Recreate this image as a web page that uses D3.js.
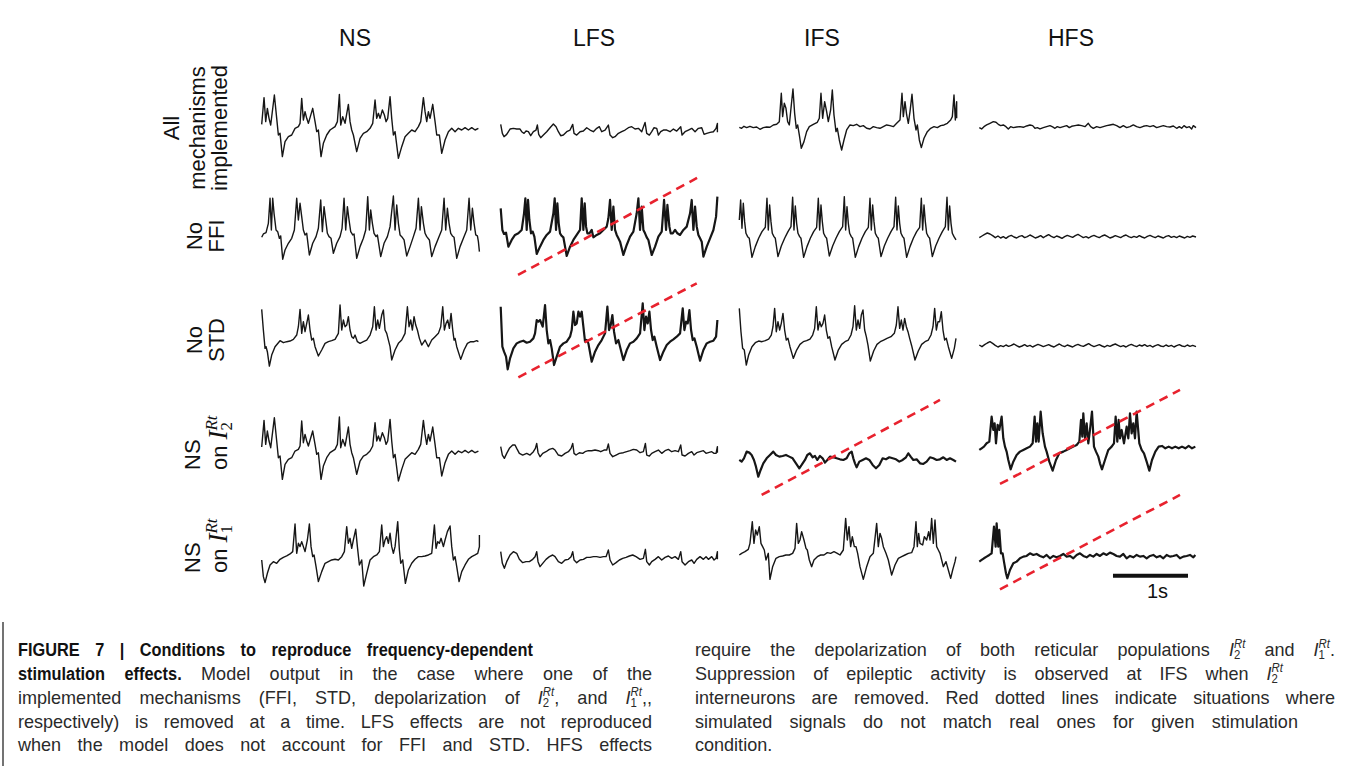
<!DOCTYPE html>
<html>
<head>
<meta charset="utf-8">
<script src="https://cdn.jsdelivr.net/npm/d3@7"></script>
<style>
  body { margin: 0; background: #fff; }
</style>
</head>
<body>
<svg id="fig" width="1354" height="766"></svg>
<script>
// stimulation conditions (columns) and model variants (rows)
var conditions = ["NS", "LFS", "IFS", "HFS"];
var variants = ["all", "noFFI", "noSTD", "onI2", "onI1"];

// traces: [sample, amplitude], 225 samples = 1 s
var all_NS = [[0,14],[7,94],[12,22],[17,62],[22,32],[27,12],[38,102],[45,32],[50,-18],[55,-13],[62,-83],[70,-38],[80,-23],[90,-18],[100,2],[110,7],[115,17],[120,92],[125,27],[130,52],[135,32],[140,17],[153,62],[160,22],[165,-8],[170,-3],[178,-83],[185,-43],[195,-18],[205,-3],[220,7],[227,22],[233,104],[237,12],[243,37],[250,17],[260,74],[265,22],[270,-3],[275,-18],[285,-68],[295,-28],[305,-13],[315,-8],[325,2],[333,17],[340,87],[345,32],[350,47],[355,32],[362,57],[368,42],[373,22],[378,32],[385,97],[390,32],[395,-18],[400,-8],[410,-88],[420,-53],[430,-23],[440,-13],[450,-3],[460,-8],[470,7],[477,22],[485,94],[490,52],[495,22],[500,52],[505,32],[513,74],[520,22],[525,-18],[533,-18],[540,-73],[550,-33],[560,-8],[570,2],[580,-8],[590,2],[600,-3],[610,4],[620,-3],[630,4],[640,-3],[650,2]];
var all_LFS = [[0,22],[5,-5],[10,-15],[18,-8],[28,8],[38,10],[48,8],[58,8],[63,0],[70,-5],[76,2],[83,0],[90,-12],[98,0],[106,5],[110,20],[114,-8],[120,-18],[128,-10],[138,0],[148,12],[158,23],[166,15],[173,0],[180,-12],[188,-10],[198,0],[208,5],[216,22],[220,-5],[228,-10],[238,0],[248,2],[258,12],[268,5],[278,0],[288,10],[296,15],[303,0],[313,5],[323,20],[328,-10],[336,-18],[343,-15],[353,-5],[363,0],[373,5],[383,12],[393,15],[403,8],[413,10],[423,0],[433,28],[438,-5],[446,-10],[453,0],[460,12],[468,10],[473,-10],[480,0],[488,5],[498,5],[508,0],[518,8],[528,2],[540,15],[544,-10],[553,0],[563,5],[573,10],[583,0],[593,10],[603,12],[610,-8],[618,-5],[628,-2],[638,0],[646,10],[650,25],[650,-2]];
var all_IFS = [[0,0],[7,-3],[14,3],[22,-1],[32,3],[42,-1],[52,1],[62,-6],[72,-1],[82,1],[92,0],[102,7],[112,9],[120,17],[126,102],[130,32],[135,72],[140,57],[145,17],[150,7],[156,67],[161,115],[166,42],[171,-3],[175,7],[180,-23],[186,-63],[194,-43],[202,-13],[210,2],[222,9],[234,15],[240,27],[245,102],[250,27],[256,77],[262,47],[267,17],[274,52],[279,112],[284,37],[290,-13],[294,-3],[300,-38],[307,-68],[314,-38],[322,-8],[332,7],[342,5],[352,9],[362,2],[372,5],[382,-3],[392,-5],[402,2],[412,-1],[422,-3],[432,2],[442,7],[452,5],[462,2],[472,12],[482,22],[488,102],[492,32],[497,77],[502,37],[507,12],[512,47],[518,99],[524,27],[530,-8],[534,7],[540,-38],[546,-61],[554,-33],[564,-13],[574,-3],[584,2],[594,-1],[604,5],[614,7],[624,12],[634,22],[639,32],[644,97],[648,22],[652,77],[652,27]];
var all_HFS = [[0,-1],[7,-5],[14,2],[22,7],[32,12],[42,17],[50,15],[57,9],[64,5],[72,7],[80,2],[87,-5],[94,2],[102,-1],[112,1],[122,2],[132,0],[142,4],[152,7],[160,5],[167,-3],[174,-1],[182,-5],[192,-1],[202,2],[212,5],[220,1],[227,-3],[234,2],[242,-1],[252,2],[262,5],[270,-1],[277,3],[287,5],[297,7],[307,5],[317,2],[327,12],[334,2],[342,-3],[352,2],[362,-1],[372,2],[382,5],[392,7],[402,9],[412,5],[422,-1],[432,5],[442,-1],[452,2],[462,7],[472,2],[482,-1],[492,3],[502,5],[512,2],[522,5],[532,-1],[542,2],[552,5],[562,2],[572,1],[582,4],[592,-3],[600,2],[607,-3],[614,5],[622,-1],[630,2],[637,-5],[642,5],[650,-1]];

var noFFI_NS = [[0,-12],[5,-2],[13,2],[20,30],[25,105],[29,10],[33,105],[37,60],[43,10],[48,5],[53,-15],[57,-8],[63,-78],[70,-50],[80,-30],[90,-15],[98,10],[105,105],[110,40],[115,90],[120,50],[125,10],[130,-5],[135,0],[143,-65],[153,-30],[163,-10],[170,15],[177,100],[182,5],[187,80],[192,40],[197,0],[202,-10],[208,-15],[215,-60],[225,-30],[235,-10],[241,15],[247,105],[252,10],[257,80],[262,40],[267,5],[273,-5],[277,-2],[285,-75],[295,-40],[305,-15],[312,10],[318,110],[323,10],[327,70],[332,30],[337,0],[343,-10],[347,-5],[357,-70],[367,-30],[377,-10],[385,20],[395,112],[400,10],[405,85],[410,30],[415,-5],[420,-10],[427,-20],[435,-68],[445,-40],[455,-10],[463,15],[470,105],[475,10],[479,80],[485,30],[490,0],[495,-10],[503,-20],[510,-70],[520,-40],[530,-15],[540,10],[547,105],[552,10],[557,75],[562,30],[567,0],[572,-8],[577,-12],[585,-75],[595,-40],[605,-15],[615,10],[622,105],[627,10],[632,75],[637,30],[642,-5],[647,-8],[650,-25],[653,-55]];
var noFFI_LFS = [[0,75],[5,10],[10,-2],[16,2],[23,-40],[33,-20],[43,-5],[53,0],[63,10],[70,60],[74,105],[78,10],[82,100],[86,40],[91,0],[96,5],[101,-10],[108,-62],[118,-40],[128,-20],[138,-5],[148,5],[158,60],[162,105],[166,10],[170,90],[174,30],[178,0],[183,-8],[188,-12],[198,-68],[208,-40],[218,-20],[228,-5],[238,10],[243,105],[248,10],[252,90],[256,20],[260,0],[266,0],[273,10],[278,-12],[288,-5],[298,0],[308,10],[318,20],[323,45],[328,100],[333,10],[338,80],[343,10],[348,-5],[353,-15],[358,-25],[368,-65],[378,-35],[388,-10],[398,5],[408,60],[413,105],[418,10],[423,80],[428,10],[433,0],[438,-12],[443,-20],[453,-65],[463,-40],[473,-10],[483,5],[490,100],[496,10],[500,85],[506,20],[510,0],[516,0],[523,10],[530,0],[538,-5],[548,10],[558,20],[568,60],[573,100],[578,10],[583,80],[588,20],[593,-5],[598,-15],[603,-25],[608,-70],[618,-40],[628,-15],[638,10],[646,50],[650,110]];
var noFFI_IFS = [[0,40],[4,100],[8,15],[12,90],[16,35],[20,0],[25,-10],[30,-15],[38,-72],[48,-40],[58,-15],[68,5],[78,18],[83,105],[87,10],[91,85],[95,35],[99,0],[104,-10],[108,-15],[116,-70],[126,-38],[136,-15],[146,5],[155,20],[160,108],[164,10],[168,82],[172,30],[176,0],[181,-10],[185,-15],[193,-72],[203,-40],[213,-15],[223,5],[232,18],[237,105],[241,10],[245,85],[249,35],[253,0],[258,-10],[262,-15],[270,-68],[280,-38],[290,-15],[300,5],[310,20],[315,110],[319,10],[323,80],[327,30],[331,0],[336,-10],[340,-15],[348,-72],[358,-40],[368,-15],[378,5],[387,18],[392,105],[396,10],[400,85],[404,35],[408,0],[413,-10],[417,-15],[425,-70],[435,-38],[445,-15],[455,5],[464,20],[469,108],[473,10],[477,82],[481,30],[485,0],[490,-10],[494,-15],[502,-72],[512,-40],[522,-15],[532,5],[541,18],[546,105],[550,10],[554,85],[558,35],[562,0],[567,-10],[571,-15],[579,-70],[589,-38],[599,-15],[609,5],[618,20],[623,108],[627,10],[631,82],[635,30],[639,0],[644,-10],[650,-20]];
var noFFI_HFS = [[0,-2],[8,3],[16,8],[24,12],[32,9],[40,4],[48,-2],[56,3],[64,-3],[72,1],[80,-4],[88,2],[96,5],[104,0],[112,-3],[120,2],[128,4],[136,-2],[144,1],[152,6],[160,2],[168,-3],[176,0],[184,4],[192,-2],[200,3],[208,7],[216,2],[224,-2],[232,3],[240,0],[248,-4],[256,1],[264,5],[272,2],[280,-1],[288,4],[296,8],[304,3],[312,-2],[320,1],[328,-3],[336,2],[344,5],[352,1],[360,-2],[368,3],[376,6],[384,2],[392,-3],[400,0],[408,4],[416,1],[424,-2],[432,3],[440,6],[448,1],[456,-2],[464,2],[472,-1],[480,4],[488,0],[496,-3],[504,2],[512,5],[520,1],[528,-2],[536,3],[544,0],[552,-3],[560,2],[568,4],[576,-1],[584,2],[592,-2],[600,3],[608,0],[616,-3],[624,2],[632,-1],[640,3],[650,0]];

var noSTD_NS = [[0,97],[5,35],[10,-20],[13,-15],[17,-30],[23,-73],[30,-40],[40,-15],[50,-3],[55,3],[65,-3],[75,0],[85,2],[95,7],[105,20],[110,45],[115,97],[120,25],[125,60],[130,30],[135,55],[140,80],[145,35],[150,5],[155,10],[160,-15],[170,-43],[180,-25],[190,-5],[200,0],[210,3],[220,7],[230,25],[235,110],[240,35],[245,65],[250,45],[255,50],[260,75],[265,35],[270,15],[275,10],[280,20],[287,0],[295,-5],[305,0],[315,5],[325,20],[333,45],[338,105],[343,35],[348,65],[353,40],[360,80],[365,95],[370,35],[375,25],[385,-15],[390,-55],[400,-25],[410,-5],[420,5],[430,25],[437,105],[442,45],[447,65],[452,35],[457,75],[462,50],[467,35],[473,10],[480,-10],[490,5],[500,-15],[510,5],[520,15],[530,25],[537,45],[543,105],[548,35],[553,55],[558,65],[563,40],[568,85],[573,35],[577,5],[580,10],[585,-15],[597,-53],[607,-25],[617,-5],[627,0],[637,0],[645,3],[650,0]];
var noSTD_LFS = [[0,105],[5,-15],[10,-30],[16,-45],[21,-83],[28,-50],[38,-20],[48,-5],[58,0],[68,3],[78,-3],[88,0],[98,10],[103,25],[108,65],[113,60],[118,65],[126,45],[133,110],[138,35],[143,-5],[148,5],[153,-20],[160,-70],[168,-45],[178,-15],[188,-5],[198,0],[208,15],[213,35],[218,90],[223,50],[228,55],[233,90],[238,75],[243,90],[248,45],[253,0],[258,5],[263,-5],[273,-60],[283,-30],[293,-10],[303,5],[313,25],[320,105],[325,35],[330,50],[335,80],[340,30],[346,-5],[353,5],[358,-15],[368,-55],[378,-25],[388,-5],[398,0],[408,10],[418,25],[426,115],[431,35],[436,75],[441,55],[446,90],[451,35],[456,5],[461,15],[468,-15],[478,-55],[488,-30],[498,-10],[508,0],[518,7],[528,15],[538,25],[546,100],[551,35],[556,60],[561,55],[566,95],[571,35],[576,5],[581,10],[588,-15],[598,-57],[608,-25],[618,-5],[628,0],[638,3],[646,15],[650,65]];
var noSTD_IFS = [[0,100],[5,30],[10,-20],[15,-25],[21,-70],[28,-40],[38,-15],[48,-3],[58,2],[68,0],[78,3],[88,8],[96,20],[101,45],[106,100],[111,30],[116,60],[121,35],[126,55],[131,85],[136,35],[141,5],[146,10],[152,-15],[162,-50],[172,-25],[182,-8],[192,0],[202,3],[212,8],[220,20],[226,40],[231,105],[236,35],[241,60],[246,45],[251,55],[256,80],[261,35],[266,10],[271,15],[277,-15],[287,-55],[297,-25],[307,-8],[317,0],[327,5],[335,20],[341,45],[346,108],[351,35],[356,65],[361,40],[366,80],[371,95],[376,35],[381,15],[386,-10],[393,-58],[403,-28],[413,-8],[423,0],[433,5],[443,10],[455,15],[465,25],[471,50],[476,105],[481,40],[486,65],[491,35],[496,70],[501,45],[506,30],[511,10],[517,-12],[527,-55],[537,-28],[547,-8],[557,0],[567,5],[575,20],[581,45],[586,100],[591,35],[596,60],[601,60],[606,90],[611,35],[616,5],[621,10],[627,-15],[637,-50],[645,-20],[650,10]];
var noSTD_HFS = [[0,3],[8,-2],[16,4],[24,9],[32,13],[40,8],[48,2],[56,-3],[64,1],[72,-2],[80,3],[88,-1],[96,2],[104,6],[112,1],[120,-3],[128,0],[136,4],[144,-1],[152,2],[160,-3],[168,1],[176,5],[184,2],[192,-2],[200,1],[208,4],[216,0],[224,-3],[232,2],[240,6],[248,1],[256,-2],[264,3],[272,0],[280,-3],[288,2],[296,5],[304,1],[312,-1],[320,3],[328,7],[336,2],[344,-2],[352,1],[360,4],[368,0],[376,-3],[384,2],[392,-1],[400,3],[408,6],[416,2],[424,-2],[432,1],[440,-3],[448,2],[456,5],[464,1],[472,-2],[480,3],[488,0],[496,4],[504,-1],[512,2],[520,-3],[528,1],[536,4],[544,0],[552,-2],[560,3],[568,-1],[576,2],[584,-3],[592,1],[600,4],[608,0],[616,-2],[624,3],[632,-1],[640,2],[650,-2]];

var onI2_NS = all_NS;
var onI2_LFS = [[0,15],[5,-10],[11,-20],[18,-5],[26,10],[36,20],[43,20],[48,10],[56,-5],[66,-10],[78,-5],[88,-10],[98,0],[104,10],[108,25],[112,-3],[118,-15],[126,-5],[136,0],[146,7],[156,10],[163,5],[173,-10],[183,-13],[193,-5],[203,0],[211,10],[216,25],[220,-5],[226,-10],[236,-3],[246,-5],[253,0],[263,3],[273,3],[283,5],[293,3],[300,0],[310,5],[318,5],[323,23],[328,-5],[336,-15],[346,-10],[356,-5],[368,-3],[378,0],[388,3],[398,7],[408,5],[418,-3],[428,0],[434,25],[438,-10],[446,-13],[453,-5],[463,0],[473,5],[483,-5],[493,3],[503,7],[513,0],[523,3],[533,0],[540,20],[544,-10],[553,-13],[563,-5],[573,0],[580,-10],[588,-3],[598,0],[608,3],[616,-5],[623,-3],[633,0],[640,-5],[646,-5],[650,15],[650,-3]];
var onI2_IFS = [[0,-2],[7,-7],[14,3],[22,23],[30,20],[37,13],[44,-2],[50,-22],[57,-52],[64,-32],[72,-12],[82,3],[92,13],[102,23],[110,13],[120,8],[130,10],[140,13],[150,8],[160,3],[170,-12],[180,-27],[187,-17],[197,-2],[204,13],[212,18],[220,6],[227,10],[234,-2],[242,10],[250,3],[257,-10],[264,-2],[272,8],[282,6],[292,3],[302,0],[312,-2],[322,3],[330,18],[337,23],[342,3],[347,-12],[352,-24],[360,-7],[370,-2],[380,3],[390,-2],[400,-17],[410,-27],[420,-17],[430,3],[440,0],[450,6],[460,3],[470,0],[480,-7],[490,-2],[500,6],[507,18],[514,8],[522,-2],[532,0],[542,-12],[552,-14],[562,-7],[572,6],[582,3],[592,-2],[602,0],[612,6],[622,-2],[632,3],[642,-2],[650,-7]];
var onI2_HFS = [[0,-5],[7,0],[14,5],[22,15],[30,20],[37,95],[42,55],[46,75],[50,15],[55,70],[60,55],[67,95],[72,30],[77,5],[82,-10],[87,-35],[94,-63],[102,-40],[112,-20],[122,-10],[132,-5],[142,0],[152,5],[160,15],[166,95],[170,20],[174,75],[178,20],[184,110],[190,45],[197,5],[202,-10],[210,-40],[220,-67],[230,-35],[240,-15],[252,-10],[262,-5],[272,0],[282,5],[292,10],[300,20],[305,85],[309,35],[312,105],[317,30],[322,75],[327,15],[332,55],[338,110],[344,5],[350,-10],[357,-25],[362,-45],[368,-63],[377,-35],[387,-5],[397,5],[404,15],[409,95],[414,20],[418,85],[422,30],[427,55],[434,15],[442,65],[447,30],[452,105],[457,45],[462,75],[467,30],[472,110],[480,15],[487,-5],[494,-15],[502,-40],[510,-67],[518,-35],[528,-10],[538,5],[548,7],[558,0],[568,5],[578,0],[588,5],[598,0],[608,5],[618,0],[628,7],[638,0],[648,5]];

var onI1_NS = [[0,-5],[5,-55],[10,-73],[17,-45],[25,-20],[35,-10],[45,-15],[55,-3],[65,3],[75,7],[85,13],[93,20],[100,103],[105,15],[110,45],[115,35],[120,50],[125,35],[130,20],[137,55],[143,103],[148,35],[153,5],[157,10],[163,-25],[170,-70],[180,-40],[190,-15],[200,-10],[210,-5],[220,-3],[230,-5],[240,5],[248,20],[255,95],[260,45],[265,60],[270,30],[275,55],[282,87],[287,35],[293,-20],[300,-5],[306,-83],[315,-45],[325,-5],[335,5],[345,10],[353,20],[360,100],[365,35],[370,55],[375,65],[380,45],[385,75],[390,35],[395,15],[400,35],[408,110],[413,25],[417,-15],[423,-5],[431,-75],[440,-35],[450,-15],[460,-3],[470,5],[480,5],[490,7],[500,10],[510,15],[518,100],[523,30],[528,50],[533,45],[538,60],[545,35],[550,55],[557,80],[565,97],[570,35],[575,-5],[580,5],[585,-25],[592,-70],[600,-40],[610,-20],[620,-3],[630,5],[640,10],[648,15],[653,35],[653,70]];
var onI1_LFS = [[0,25],[5,-10],[11,-25],[18,-5],[28,15],[38,25],[48,20],[56,2],[66,-8],[76,-5],[86,-5],[96,2],[103,10],[108,25],[112,-5],[118,-20],[126,-10],[136,2],[146,10],[156,15],[163,10],[173,-5],[183,-10],[193,0],[203,2],[211,10],[216,25],[220,0],[228,-8],[238,0],[248,2],[258,8],[268,8],[278,10],[288,10],[298,8],[308,10],[316,10],[323,30],[328,0],[336,-15],[346,-8],[356,0],[366,5],[376,8],[386,12],[396,15],[406,10],[418,2],[428,5],[434,32],[438,-5],[446,-15],[453,-5],[463,2],[473,10],[483,0],[493,8],[503,12],[513,5],[523,10],[533,2],[540,25],[544,-5],[553,-15],[563,-5],[573,0],[580,-10],[588,2],[598,10],[608,2],[616,10],[623,2],[633,10],[640,0],[646,5],[650,25],[650,2]];
var onI1_IFS = [[0,0],[7,5],[17,10],[27,17],[32,35],[39,100],[44,35],[49,75],[54,60],[60,85],[65,35],[70,25],[75,15],[80,-15],[87,5],[92,-73],[100,-35],[110,-10],[120,-5],[130,-3],[140,0],[150,0],[160,5],[167,20],[172,95],[177,35],[182,45],[187,70],[194,45],[200,20],[204,15],[210,-15],[217,-35],[224,-15],[234,-5],[244,0],[254,0],[264,7],[274,5],[284,10],[294,5],[302,0],[312,15],[319,110],[324,45],[329,85],[334,25],[339,55],[345,25],[350,25],[355,5],[362,-35],[372,-73],[382,-35],[392,-5],[402,5],[412,95],[417,25],[422,65],[427,50],[432,25],[440,5],[447,-15],[457,-60],[467,-30],[477,-10],[487,-5],[497,0],[507,5],[517,7],[524,25],[530,100],[534,25],[538,65],[542,35],[550,30],[555,55],[562,45],[568,70],[572,45],[577,110],[582,35],[587,105],[592,25],[597,15],[602,5],[607,-15],[612,-35],[620,-20],[627,-45],[634,-70],[640,-45],[647,-20],[650,-5]];
var onI1_HFS = [[0,-10],[7,-5],[14,0],[22,5],[30,10],[37,15],[44,95],[49,35],[52,105],[57,35],[60,85],[65,15],[70,15],[74,-10],[80,-45],[84,-60],[92,-35],[102,-15],[112,-10],[122,0],[132,5],[142,7],[152,15],[162,10],[172,13],[182,7],[192,3],[202,10],[212,0],[222,7],[232,3],[242,7],[252,13],[262,5],[272,7],[282,0],[292,10],[302,15],[312,7],[322,3],[332,10],[342,5],[352,13],[362,7],[372,15],[382,10],[392,17],[402,13],[412,7],[422,5],[432,13],[442,0],[452,7],[462,3],[472,10],[482,5],[492,7],[502,0],[512,7],[522,10],[532,3],[542,7],[552,0],[562,10],[572,5],[582,7],[592,10],[602,0],[612,5],[622,7],[632,10],[642,3],[648,10]];

// red dashed "mismatch" markers: [row, col, [sample, amp] start, [sample, amp] end]
var mismatches = [
  [1, 1, [52, -125], [589, 166]],
  [2, 1, [53, -107], [588, 175]],
  [3, 2, [67, -107], [602, 178]],
  [3, 3, [62, -107], [602, 175]],
  [4, 3, [62, -93], [602, 190]]
];

var fs = 225;          // samples per second
var scaleBarStart = 401;

var grid = [
  [all_NS, all_LFS, all_IFS, all_HFS],
  [noFFI_NS, noFFI_LFS, noFFI_IFS, noFFI_HFS],
  [noSTD_NS, noSTD_LFS, noSTD_IFS, noSTD_HFS],
  [onI2_NS, onI2_LFS, onI2_IFS, onI2_HFS],
  [onI1_NS, onI1_LFS, onI1_IFS, onI1_HFS]
];

// layout
var colX = [261.7, 500.7, 739.3, 979.3];
var traceW = 216.7;
var rowBase = [
  [129, 131.7, 127.3, 127.3],
  [233.3, 233.3, 233.3, 237],
  [341.7, 341.7, 341.7, 346],
  [451.7, 451.7, 459.3, 448.3],
  [558.3, 560, 555, 558.3]
];
var heavy = [
  [0, 0, 0, 0],
  [0, 1, 0, 0],
  [0, 1, 0, 0],
  [0, 0, 1, 1],
  [0, 0, 0, 1]
];
var headerX = [355, 594, 822, 1071];

var svg = d3.select("#fig");
var sans = "'Liberation Sans', Arial, Helvetica, sans-serif";
var serif = "'Liberation Serif', 'DejaVu Serif', serif";

function xScale(c) {
  return d3.scaleLinear().domain([0, 650]).range([colX[c], colX[c] + traceW]);
}
function yScale(r, c) {
  var b = rowBase[r][c];
  return d3.scaleLinear().domain([-150, 150]).range([b + 50, b - 50]);
}

// traces
grid.forEach(function(row, r) {
  row.forEach(function(data, c) {
    var x = xScale(c), y = yScale(r, c);
    svg.append("path")
      .datum(data)
      .attr("d", d3.line().x(d => x(d[0])).y(d => y(d[1])))
      .attr("fill", "none")
      .attr("stroke", "#161616")
      .attr("stroke-width", heavy[r][c] ? 2.2 : 1.4)
      .attr("stroke-linejoin", "round");
  });
});

// mismatch lines
mismatches.forEach(function(m) {
  var x = xScale(m[1]), y = yScale(m[0], m[1]);
  svg.append("line")
    .attr("x1", x(m[2][0])).attr("y1", y(m[2][1]))
    .attr("x2", x(m[3][0])).attr("y2", y(m[3][1]))
    .attr("stroke", "#e8222e")
    .attr("stroke-width", 2.6)
    .attr("stroke-dasharray", "9,6");
});

// scale bar (1 s)
var xb = xScale(3), yb = yScale(4, 3);
svg.append("line")
  .attr("x1", xb(scaleBarStart)).attr("x2", xb(scaleBarStart + fs))
  .attr("y1", yb(-52)).attr("y2", yb(-52))
  .attr("stroke", "#111").attr("stroke-width", 4);
svg.append("text")
  .attr("x", (xb(scaleBarStart) + xb(scaleBarStart + fs)) / 2 + 7)
  .attr("y", 598)
  .attr("text-anchor", "middle")
  .attr("font-family", sans).attr("font-size", 20).attr("fill", "#111")
  .text("1s");

// column headers
conditions.forEach(function(c, i) {
  svg.append("text")
    .attr("x", headerX[i]).attr("y", 46)
    .attr("text-anchor", "middle")
    .attr("font-family", sans).attr("font-size", 23).attr("fill", "#111")
    .text(c);
});

// rich text helper: draws pieces left to right, returns width
function drawPieces(g, pieces) {
  var x = 0, lastStart = 0;
  pieces.forEach(function(p) {
    var t = g.append("text")
      .attr("font-family", p.f).attr("font-size", p.size)
      .attr("font-weight", p.w || "normal").attr("font-style", p.s || "normal")
      .attr("fill", p.fill || "#111")
      .attr("y", p.dy || 0)
      .text(p.t);
    var w = t.node().getComputedTextLength() + (p.pad || 0);
    if (p.stack) {
      t.attr("x", lastStart);
      x = Math.max(x, lastStart + w);
    } else {
      t.attr("x", x);
      lastStart = x;
      x += w;
    }
  });
  return x;
}

function mathPieces(sub, fam, big, small, up, down, fill) {
  return [
    {t: "I", f: fam, s: "italic", size: big, fill: fill},
    {t: "Rt", f: fam, s: "italic", size: small, dy: up, fill: fill},
    {t: sub, f: fam, size: small, dy: down, stack: true, fill: fill}
  ];
}

// row labels (rotated)
var rowLabels = [
  {lines: [["All"], ["mechanisms"], ["implemented"]], xs: [179, 205, 227], y: 128, anchor: "middle"},
  {lines: [["No"], ["FFI"]], xs: [202, 224], y: 236, anchor: "middle"},
  {lines: [["No"], ["STD"]], xs: [202, 224], y: 340, anchor: "middle"},
  {lines: [["NS"], ["on", "2"]], xs: [200, 227], y: 470, anchor: "start"},
  {lines: [["NS"], ["on", "1"]], xs: [200, 227], y: 573, anchor: "start"}
];
rowLabels.forEach(function(lab) {
  lab.lines.forEach(function(segs, k) {
    var g = svg.append("g");
    var pieces = [];
    segs.forEach(function(s) {
      if (s === "1" || s === "2") pieces = pieces.concat(mathPieces(s, serif, 27, 17, -10, 5, "#111"));
      else pieces.push({t: s, f: sans, size: 22, fill: "#111", pad: segs.length > 1 ? 6 : 0});
    });
    var w = drawPieces(g, pieces);
    var off = lab.anchor === "middle" ? -w / 2 : 0;
    g.attr("transform", "translate(" + lab.xs[k] + "," + lab.y + ") rotate(-90) translate(" + off + ",0)");
  });
});

// caption
svg.append("line")
  .attr("x1", 3).attr("x2", 3).attr("y1", 622).attr("y2", 766)
  .attr("stroke", "#444").attr("stroke-width", 1.5);

var capBase = [656, 680, 704, 728, 751];
var capSize = 19, condense = 0.95, boldCondense = 0.86;
var leftCol = [
  {x1: 533, segs: [["FIGURE 7 | Conditions to reproduce frequency-dependent", "b"]]},
  {x1: 652, segs: [["stimulation effects.", "b"], [" Model output in the case where one of the", "r"]]},
  {x1: 652, segs: [["implemented mechanisms (FFI, STD, depolarization of ", "r"], ["2", "m"], [", and ", "r"], ["1", "m"], [",,", "r"]]},
  {x1: 652, segs: [["respectively) is removed at a time. LFS effects are not reproduced", "r"]]},
  {x1: 652, segs: [["when the model does not account for FFI and STD. HFS effects", "r"]]}
];
var rightCol = [
  {x1: 1335, segs: [["require the depolarization of both reticular populations ", "r"], ["2", "m"], [" and ", "r"], ["1", "m"], [".", "r"]]},
  {x1: 1283, segs: [["Suppression of epileptic activity is observed at IFS when ", "r"], ["2", "m"]]},
  {x1: 1335, segs: [["interneurons are removed. Red dotted lines indicate situations where", "r"]]},
  {x1: 1298, segs: [["simulated signals do not match real ones for given stimulation", "r"]]},
  {x1: null, segs: [["condition.", "r"]]}
];

function captionWords(segs) {
  var words = [[]];
  segs.forEach(function(s) {
    if (s[1] === "m") { words[words.length - 1].push(s); return; }
    s[0].split(" ").forEach(function(part, k) {
      if (k > 0) words.push([]);
      if (part) words[words.length - 1].push([part, s[1]]);
    });
  });
  return words.filter(w => w.length);
}

function drawCaptionColumn(lines, x0) {
  lines.forEach(function(line, li) {
    var words = captionWords(line.segs);
    var groups = words.map(function(word) {
      var g = svg.append("g");
      var pieces = [];
      var bold = word.every(s => s[1] === "b");
      word.forEach(function(s) {
        if (s[1] === "m") pieces = pieces.concat(mathPieces(s[0], sans, capSize, 12, -8, 3, "#2a2a2a"));
        else pieces.push({t: s[0], f: sans, size: capSize, w: s[1] === "b" ? "bold" : "normal",
                          fill: s[1] === "b" ? "#111" : "#2a2a2a"});
      });
      var k = bold ? boldCondense : condense;
      return {g: g, k: k, w: drawPieces(g, pieces) * k};
    });
    var total = d3.sum(groups, d => d.w);
    var gap = line.x1 ? (line.x1 - x0 - total) / (groups.length - 1) : 5;
    var x = x0;
    groups.forEach(function(d) {
      d.g.attr("transform", "translate(" + x + "," + capBase[li] + ") scale(" + d.k + ",1)");
      x += d.w + gap;
    });
  });
}
drawCaptionColumn(leftCol, 18);
drawCaptionColumn(rightCol, 695);
</script>
</body>
</html>
